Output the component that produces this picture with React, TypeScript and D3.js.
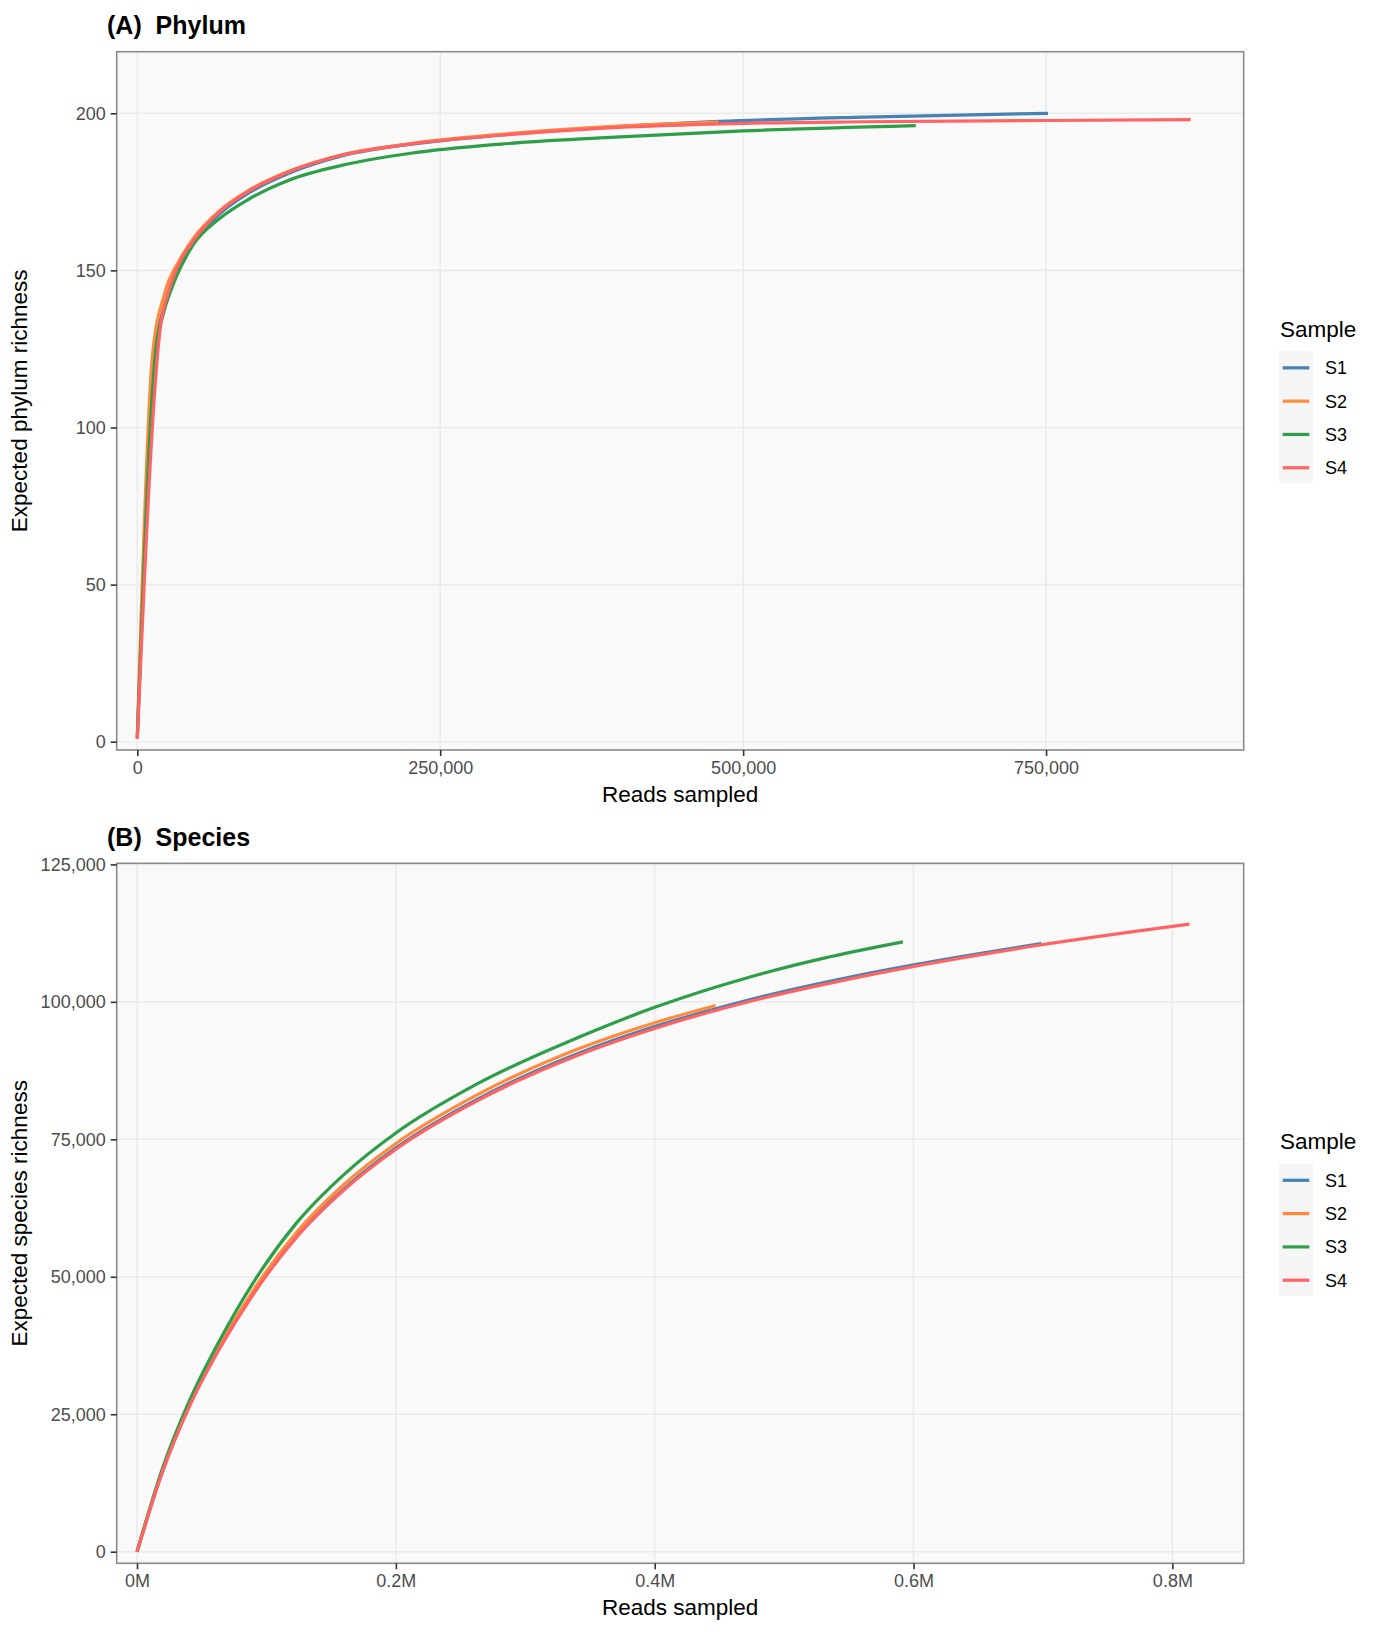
import React, { useEffect, useRef } from 'react';
import * as d3 from 'd3';

type Pt = [number, number];

// Samples and colours
const samples = ['S1', 'S2', 'S3', 'S4'];
const sampleColors = ['#4682B4', '#FF8B3D', '#2E9E48', '#FF6464'];

// Panel A: phylum rarefaction (reads sampled, expected richness)
const phylumS1: Pt[] = [
  [0, 1], [17000, 130], [24000, 140], [35000, 152], [46000, 158.8], [68000, 168],
  [92600, 174.8], [125600, 181], [169500, 186.5], [224500, 190.1], [300000, 193.1],
  [381900, 195.4], [480000, 197.4], [600000, 198.8], [751600, 200]
];
const phylumS2: Pt[] = [
  [0, 1], [12400, 122.4], [22500, 142.6], [34900, 153.3], [45900, 160], [68000, 169],
  [92600, 175.6], [125600, 181.6], [169500, 186.8], [224500, 190.3], [300000, 193.3],
  [381900, 195.6], [479700, 197.2]
];
const phylumS3: Pt[] = [
  [0, 1.6], [15600, 126], [21200, 135.8], [32150, 147.9], [45900, 158], [67900, 166.5],
  [92600, 172.8], [125600, 178.8], [169500, 183.5], [224500, 187.2], [300000, 190.2],
  [381900, 192.2], [500000, 194.4], [642500, 196.1]
];
const phylumS4: Pt[] = [
  [0, 1], [19800, 134], [24000, 141], [35000, 152.6], [46000, 159.3], [68000, 168.7],
  [92600, 175.4], [125600, 181.5], [169500, 186.8], [224500, 190.2], [300000, 193],
  [381900, 195.2], [500000, 196.8], [600000, 197.3], [750000, 197.7], [869300, 198]
];

// Panel B: species rarefaction
const speciesS1: Pt[] = [
  [0, 0], [19900, 14750], [40600, 26600], [63800, 37050], [89700, 46950], [123300, 57400],
  [159400, 65900], [199800, 73400], [264600, 82500], [341700, 90700], [400000, 95500],
  [470300, 100200], [573100, 105550], [698800, 110600]
];
const speciesS2: Pt[] = [
  [0, 0], [19900, 14900], [40600, 26900], [63800, 37500], [89700, 47500], [123300, 58100],
  [159400, 66700], [199800, 74200], [264600, 83300], [341700, 91500], [400000, 96200],
  [447100, 99340]
];
const speciesS3: Pt[] = [
  [0, 0], [19900, 15300], [40600, 27500], [63800, 38400], [89700, 48900], [123300, 59800],
  [159400, 68500], [200000, 76150], [264600, 85300], [341700, 93600], [400000, 99000],
  [470300, 104300], [530000, 107900], [591800, 110900]
];
const speciesS4: Pt[] = [
  [0, 0], [19900, 14700], [40600, 26500], [63800, 36940], [89700, 46780], [123300, 57200],
  [159400, 65680], [199800, 73150], [264600, 82220], [341700, 90390], [400000, 95170],
  [470300, 99880], [573100, 105230], [696500, 110290], [813200, 114140]
];

// Tick values
const phylumXTicks = [0, 250000, 500000, 750000];
const phylumYTicks = [0, 50, 100, 150, 200];
const speciesXTicks = [0, 200000, 400000, 600000, 800000];
const speciesYTicks = [0, 25000, 50000, 75000, 100000, 125000];

const FONT = "'Liberation Sans', Arial, Helvetica, sans-serif";

interface PanelOpts {
  title: string;
  yTitle: string;
  top: number;
  bottom: number;
  xDomain: [number, number];
  yDomain: [number, number];
  xTicks: number[];
  yTicks: number[];
  xFormat: (d: number) => string;
  yFormat: (d: number) => string;
  series: Pt[][];
}

const App = () => {
  const ref = useRef<SVGSVGElement>(null);

  useEffect(() => {
    const svg = d3.select(ref.current!);
    svg.selectAll('*').remove();

    const left = 116.7;
    const right = 1243.7;

    const drawPanel = (o: PanelOpts) => {
      const g = svg.append('g');
      const x = d3.scaleLinear().domain(o.xDomain).range([left, right]);
      const y = d3.scaleLinear().domain(o.yDomain).range([o.bottom, o.top]);

      // panel background
      g.append('rect')
        .attr('x', left).attr('y', o.top)
        .attr('width', right - left).attr('height', o.bottom - o.top)
        .attr('fill', '#F9F9F9');

      // grid
      g.selectAll('.vgrid').data(o.xTicks).enter().append('line')
        .attr('x1', d => x(d)).attr('x2', d => x(d))
        .attr('y1', o.top).attr('y2', o.bottom)
        .attr('stroke', '#EBEBEB').attr('stroke-width', 1.6);
      g.selectAll('.hgrid').data(o.yTicks).enter().append('line')
        .attr('x1', left).attr('x2', right)
        .attr('y1', d => y(d)).attr('y2', d => y(d))
        .attr('stroke', '#EBEBEB').attr('stroke-width', 1.6);

      // curves
      const line = d3.line<Pt>()
        .x(d => x(d[0]))
        .y(d => y(d[1]))
        .curve(d3.curveMonotoneX);
      o.series.forEach((s, i) => {
        g.append('path')
          .attr('d', line(s)!)
          .attr('fill', 'none')
          .attr('stroke', sampleColors[i])
          .attr('stroke-width', 3.2)
          .attr('stroke-linejoin', 'round');
      });

      // border
      g.append('rect')
        .attr('x', left).attr('y', o.top)
        .attr('width', right - left).attr('height', o.bottom - o.top)
        .attr('fill', 'none').attr('stroke', '#8A8A8A').attr('stroke-width', 1.6);

      // axes
      const xAxis = g.append('g')
        .attr('transform', `translate(0,${o.bottom})`)
        .call(d3.axisBottom(x).tickValues(o.xTicks).tickFormat(d => o.xFormat(+d)).tickSizeInner(6).tickSizeOuter(0).tickPadding(5));
      xAxis.select('.domain').remove();
      xAxis.selectAll('line').attr('stroke', '#333').attr('stroke-width', 1.6);
      xAxis.selectAll('text')
        .attr('font-family', FONT).attr('font-size', 18).attr('fill', '#4D4D4D');

      const yAxis = g.append('g')
        .attr('transform', `translate(${left},0)`)
        .call(d3.axisLeft(y).tickValues(o.yTicks).tickFormat(d => o.yFormat(+d)).tickSizeInner(6).tickSizeOuter(0).tickPadding(5));
      yAxis.select('.domain').remove();
      yAxis.selectAll('line').attr('stroke', '#333').attr('stroke-width', 1.6);
      yAxis.selectAll('text')
        .attr('font-family', FONT).attr('font-size', 18).attr('fill', '#4D4D4D');

      // titles
      g.append('text')
        .attr('x', 107).attr('y', o.top - 17.5)
        .attr('font-family', FONT).attr('font-size', 25).attr('font-weight', 'bold')
        .attr('fill', '#000')
        .style('white-space', 'pre')
        .text(o.title);

      g.append('text')
        .attr('x', (left + right) / 2).attr('y', o.bottom + 52)
        .attr('text-anchor', 'middle')
        .attr('font-family', FONT).attr('font-size', 22.5).attr('fill', '#000')
        .text('Reads sampled');

      g.append('text')
        .attr('transform', `translate(27,${(o.top + o.bottom) / 2}) rotate(-90)`)
        .attr('text-anchor', 'middle')
        .attr('font-family', FONT).attr('font-size', 22.5).attr('fill', '#000')
        .text(o.yTitle);

      // legend
      const legTop = (o.top + o.bottom) / 2 - 64;
      const legend = g.append('g').attr('transform', `translate(1279,${legTop})`);
      legend.append('text')
        .attr('x', 1).attr('y', 0)
        .attr('font-family', FONT).attr('font-size', 22.5).attr('fill', '#000')
        .text('Sample');
      legend.append('rect')
        .attr('x', 0).attr('y', 14.5).attr('width', 34).attr('height', 132)
        .attr('fill', '#F5F5F5');
      legend.selectAll('.key').data(samples).enter().append('line')
        .attr('x1', 3.7).attr('x2', 30.3)
        .attr('y1', (d, i) => 31 + i * 33.3).attr('y2', (d, i) => 31 + i * 33.3)
        .attr('stroke', (d, i) => sampleColors[i]).attr('stroke-width', 3.2);
      legend.selectAll('.lab').data(samples).enter().append('text')
        .attr('x', 46).attr('y', (d, i) => 31 + i * 33.3)
        .attr('dy', '0.36em')
        .attr('font-family', FONT).attr('font-size', 18).attr('fill', '#000')
        .text(d => d);
    };

    drawPanel({
      title: '(A)  Phylum',
      yTitle: 'Expected phylum richness',
      top: 51.7,
      bottom: 750,
      xDomain: [-17000, 913100],
      yDomain: [-2.64, 219.6],
      xTicks: phylumXTicks,
      yTicks: phylumYTicks,
      xFormat: d => d3.format(',')(d),
      yFormat: d => String(d),
      series: [phylumS1, phylumS2, phylumS3, phylumS4]
    });

    drawPanel({
      title: '(B)  Species',
      yTitle: 'Expected species richness',
      top: 863.3,
      bottom: 1563.3,
      xDomain: [-15700, 855100],
      yDomain: [-2110, 125200],
      xTicks: speciesXTicks,
      yTicks: speciesYTicks,
      xFormat: d => `${d / 1e6}M`,
      yFormat: d => d3.format(',')(d),
      series: [speciesS1, speciesS2, speciesS3, speciesS4]
    });
  }, []);

  return (
    <svg
      ref={ref}
      width={1379}
      height={1635}
      style={{ position: 'absolute', left: 0, top: 0, background: '#fff' }}
    />
  );
};

export default App;
